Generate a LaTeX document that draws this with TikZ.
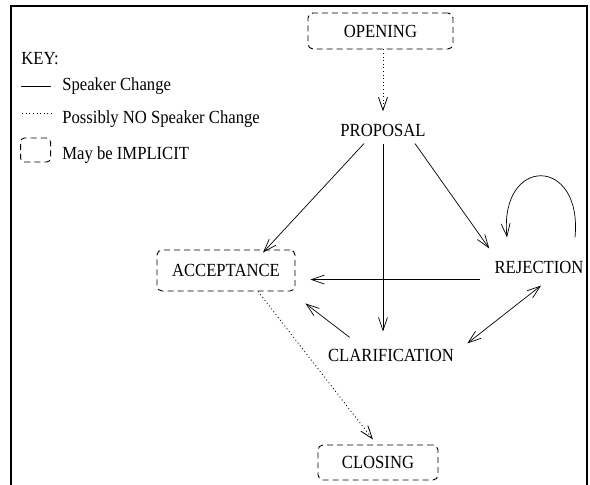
\documentclass[tikz,border=0pt]{standalone}
\usepackage{fontspec}
\setmainfont{Liberation Serif}[FakeStretch=0.9]
\usetikzlibrary{arrows.meta}

\begin{document}
\begin{tikzpicture}[x=1pt, y=-1pt, >={Straight Barb[length=13pt,width=9pt]},
    font=\fontsize{18.5}{22}\selectfont, line width=0.7pt,
    box/.style={draw, line width=0.9pt, dash pattern=on 6pt off 4pt, rounded corners=5pt, inner sep=0pt},
    lbl/.style={inner sep=7pt},
    spk/.style={->},
    nspk/.style={->, line width=0.8pt, dash pattern=on 1pt off 2.6pt}]
    \useasboundingbox (0,0) rectangle (590,485);
    \draw[line width=1.3pt] (11,485) -- (11,6) -- (587,6) -- (587,485);

    % Nodes
    \node [box, minimum width=145pt, minimum height=36pt] (open) at (380.5,31)  {OPENING};
    \node [lbl]                                          (prop) at (383,130)   {PROPOSAL};
    \node [box, minimum width=138pt, minimum height=41pt] (acc)  at (226,270.5) {ACCEPTANCE};
    \node [lbl]                                          (rej)  at (539,267)   {REJECTION};
    \node [lbl]                                          (clar) at (391,355)   {CLARIFICATION};
    \node [box, minimum width=120pt, minimum height=35pt] (clos) at (378,462.5) {CLOSING};

    % Key
    \node [anchor=west, inner sep=0pt]      (key)  at (21,58.5) {KEY:};
    \node [anchor=base west, inner sep=0pt] (kspk) at (62,90)   {Speaker Change};
    \node [anchor=base west, inner sep=0pt] (knsp) at (62,123)  {Possibly NO Speaker Change};
    \node [anchor=base west, inner sep=0pt] (kimp) at (62,159)  {May be IMPLICIT};
    \draw ([xshift=-11pt,yshift=4pt]kspk.base west) -- ++(-30,0);
    \draw [line width=0.8pt, dash pattern=on 1pt off 2.6pt] ([xshift=-10pt,yshift=10pt]knsp.base west) -- ++(-31,0);
    \node [box, rounded corners=4pt, minimum width=30pt, minimum height=24pt,
           anchor=east] (kbox) at ([xshift=-11pt,yshift=9pt]kimp.base west) {};

    % Paths
    \draw [nspk] (open.south -| prop.north) -- ([yshift=5pt]prop.north);
    \draw [spk]  ([xshift=-19pt]prop.south) -- ([xshift=37pt,yshift=-3pt]acc.north);
    \draw [spk]  (prop.south) -- ([yshift=10pt]prop.south |- clar.north);
    \draw [spk]  ([xshift=32pt]prop.south) -- ([xshift=2pt,yshift=5pt]rej.north west);
    \draw [spk]  ([xshift=36pt,yshift=16pt]rej.north) .. controls +(8,-82) and +(-8,-82)
                 .. ([xshift=-32pt,yshift=16pt]rej.north);
    \draw [spk]  ([xshift=-7pt,yshift=1pt]rej.south west) -- ([xshift=15pt,yshift=1pt]rej.south west -| acc.east);
    \draw [spk]  ([xshift=29pt,yshift=4pt]clar.north west) -- ([xshift=10pt,yshift=-12pt]acc.south east);
    \draw [<->]  ([xshift=6pt,yshift=-2pt]clar.north east) -- ([xshift=2pt,yshift=-5pt]rej.south);
    \draw [nspk] ([xshift=32pt]acc.south) -- ([xshift=-5pt,yshift=5pt]clos.north);
\end{tikzpicture}
\end{document}
